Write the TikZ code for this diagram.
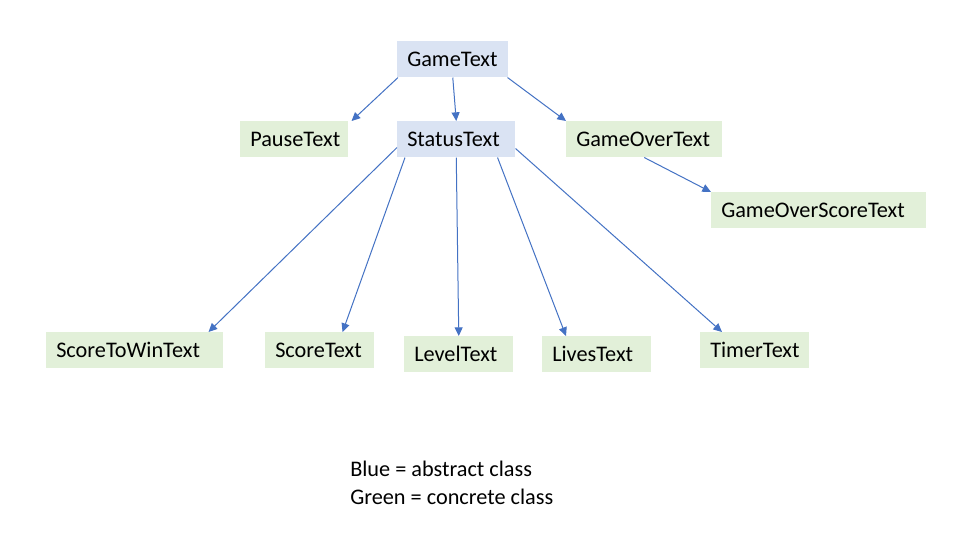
\documentclass[tikz,border=0pt]{standalone}
\usepackage{fontspec}
\setmainfont{Carlito}
\usetikzlibrary{arrows.meta,calc}
\definecolor{absfill}{HTML}{DAE3F3}
\definecolor{confill}{HTML}{E2F0D9}
\definecolor{arrblue}{HTML}{4472C4}
\tikzset{
  cls/.style 2 args={draw=none, fill=#1, anchor=north west, inner xsep=7.5pt, inner ysep=0pt,
    text width=#2, align=left, minimum height=27pt, font=\fontsize{16.7}{19}\selectfont},
  arr/.style={draw=arrblue, line width=0.75pt, -{Triangle[length=6.5pt,width=6pt]}},
  legend/.style={anchor=base west, inner sep=0pt, font=\fontsize{16.7}{19}\selectfont}
}
\begin{document}
\begin{tikzpicture}[x=0.75pt,y=-0.75pt]
\useasboundingbox (0,0) rectangle (963,550);
\fill[white] (0,0) rectangle (963,550);
\node[cls={absfill}{68.25pt}] (game) at (397,41) {GameText};
\node[cls={confill}{66pt}] (pause) at (240,121) {PauseText};
\node[cls={absfill}{73.5pt}] (status) at (397,121) {StatusText};
\node[cls={confill}{102pt}] (gameover) at (566,121) {GameOverText};
\node[cls={confill}{146.25pt}] (gos) at (711,192) {GameOverScoreText};
\node[cls={confill}{117.75pt}] (stw) at (46,332) {ScoreToWinText};
\node[cls={confill}{66.75pt}] (score) at (265,332) {ScoreText};
\node[cls={confill}{66.75pt}] (level) at (404,336) {LevelText};
\node[cls={confill}{66.75pt}] (lives) at (542,336) {LivesText};
\node[cls={confill}{66.75pt}] (timer) at (700,332) {TimerText};

\draw[arr] ($(game.south west)+(1,0)$) -- ($(pause.north east)+(3,0)$);
\draw[arr] (game.south) -- (status.north);
\draw[arr] ($(game.south east)+(-1,0)$) -- (gameover.north west);
\draw[arr] (gameover.south) -- (gos.north west);
\draw[arr] ($(status.south west)+(0,-10)$) -- ($(stw.north east)+(-15,0)$);
\draw[arr] ($(status.south west)+(8,0)$) -- ($(score.north east)+(-32,0)$);
\draw[arr] (status.south) -- (level.north);
\draw[arr] ($(status.south east)+(-18,0)$) -- ($(lives.north west)+(24,0)$);
\draw[arr] ($(status.south east)+(0,-9)$) -- ($(timer.north west)+(22,0)$);

\node[legend] (leg1) at (350,476) {Blue = abstract class};
\node[legend] (leg2) at (350,504) {Green = concrete class};
\end{tikzpicture}
\end{document}
